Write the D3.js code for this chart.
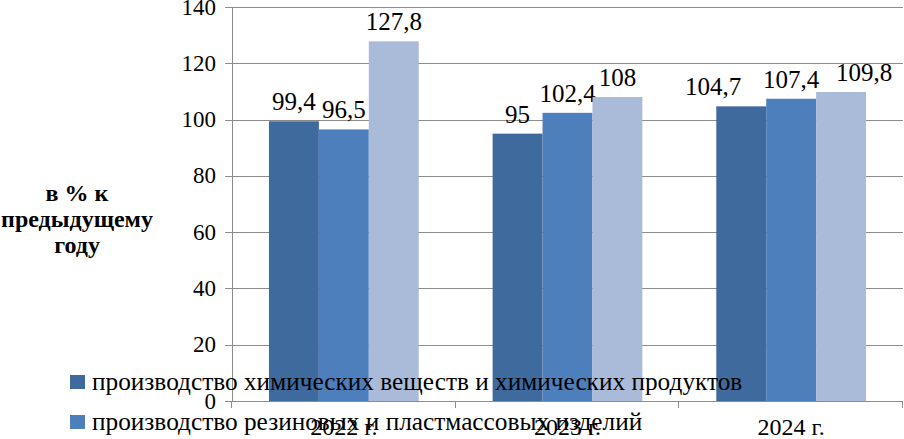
<!DOCTYPE html>
<html>
<head>
<meta charset="utf-8">
<script src="https://cdn.jsdelivr.net/npm/d3@7"></script>
<style>
  body { margin: 0; background: #fff; }
</style>
</head>
<body>
<div id="chart"></div>
<script>
// data
const years = ["2022 г.", "2023 г.", "2024 г."];
const seriesNames = [
  "производство химических веществ и химических продуктов",
  "производство резиновых и пластмассовых изделий",
  "третий ряд"
];
const chemValues = [99.4, 95, 104.7];
const rubberValues = [96.5, 102.4, 107.4];
const thirdValues = [127.8, 108, 109.8];
const valueLabels = [
  ["99,4", "95", "104,7"],
  ["96,5", "102,4", "107,4"],
  ["127,8", "108", "109,8"]
];
const yTicks = [0, 20, 40, 60, 80, 100, 120, 140];
const yTitle = ["в % к", "предыдущему", "году"];

const W = 904, H = 439;
const margin = { top: 7, right: 1, bottom: 38, left: 232 };
const FONT = "'Liberation Serif'";

var colors = ["#3F6A9E", "#4D7FBC", "#A9BBD9"];
var allSeries = [chemValues, rubberValues, thirdValues];
// labels in the last group are pushed apart so they don't collide
var labelNudge = [[0, 0, -28], [0, 0, 0], [0, 0, 23]];

var svg = d3.select("#chart").append("svg")
  .attr("width", W).attr("height", H);

var x = d3.scaleBand()
  .domain(years)
  .range([margin.left, W - margin.right])
  .paddingInner(0)
  .paddingOuter(0);

var inner = d3.scaleBand()
  .domain([0, 1, 2])
  .range([0, x.bandwidth()])
  .paddingOuter(0.74)
  .paddingInner(0);

var y = d3.scaleLinear()
  .domain([0, 140])
  .range([H - margin.bottom, margin.top]);

// gridlines
svg.append("g")
  .selectAll("line")
  .data(yTicks)
  .enter()
  .append("line")
  .attr("x1", margin.left - 7)
  .attr("x2", W - margin.right)
  .attr("y1", d => Math.round(y(d)) + 0.5)
  .attr("y2", d => Math.round(y(d)) + 0.5)
  .attr("stroke", "#8c8c8c")
  .attr("stroke-width", 1);

// y axis line
svg.append("line")
  .attr("x1", margin.left + 0.5).attr("x2", margin.left + 0.5)
  .attr("y1", y(140)).attr("y2", y(0))
  .attr("stroke", "#8c8c8c");

// x ticks
var xTickPos = [x(years[0]), x(years[1]), x(years[2]), x(years[2]) + x.bandwidth()];
svg.append("g")
  .selectAll("line")
  .data(xTickPos)
  .enter()
  .append("line")
  .attr("x1", d => Math.round(d) - 0.5)
  .attr("x2", d => Math.round(d) - 0.5)
  .attr("y1", y(0))
  .attr("y2", y(0) + 7)
  .attr("stroke", "#8c8c8c");

// y tick labels
svg.append("g")
  .selectAll("text")
  .data(yTicks)
  .enter()
  .append("text")
  .attr("x", margin.left - 16)
  .attr("y", d => y(d) + 7.5)
  .attr("text-anchor", "end")
  .style("font-family", FONT)
  .style("font-size", "23px")
  .text(d => d);

// bars
allSeries.forEach(function (vals, s) {
  svg.append("g")
    .selectAll("rect")
    .data(vals)
    .enter()
    .append("rect")
    .attr("x", (d, i) => x(years[i]) + inner(s))
    .attr("width", inner.bandwidth())
    .attr("y", d => y(d))
    .attr("height", d => y(0) - y(d))
    .attr("fill", colors[s]);

  svg.append("g")
    .selectAll("text")
    .data(vals)
    .enter()
    .append("text")
    .attr("x", (d, i) => x(years[i]) + inner(s) + inner.bandwidth() / 2 + labelNudge[s][i])
    .attr("y", d => y(d) - 11)
    .attr("text-anchor", "middle")
    .style("font-family", FONT)
    .style("font-size", "25px")
    .text((d, i) => valueLabels[s][i]);
});

// x labels
svg.append("g")
  .selectAll("text")
  .data(years)
  .enter()
  .append("text")
  .attr("x", d => x(d) + x.bandwidth() / 2)
  .attr("y", 435)
  .attr("text-anchor", "middle")
  .style("font-family", FONT)
  .style("font-size", "24px")
  .text(d => d);

// y title
yTitle.forEach(function (line, i) {
  svg.append("text")
    .attr("x", 77)
    .attr("y", 201 + i * 26)
    .attr("text-anchor", "middle")
    .style("font-family", FONT)
    .style("font-size", "24px")
    .style("font-weight", "bold")
    .text(line);
});

// legend (two rows, drawn over the plot)
var legend = svg.append("g");
[0, 1].forEach(function (s) {
  var ly = 375 + s * 40;
  legend.append("rect")
    .attr("x", 70).attr("y", ly)
    .attr("width", 15).attr("height", 14)
    .attr("fill", colors[s]);
  legend.append("text")
    .attr("x", 92).attr("y", ly + 15)
    .style("font-family", FONT)
    .style("font-size", "25.3px")
    .text(seriesNames[s]);
});
</script>
</body>
</html>
